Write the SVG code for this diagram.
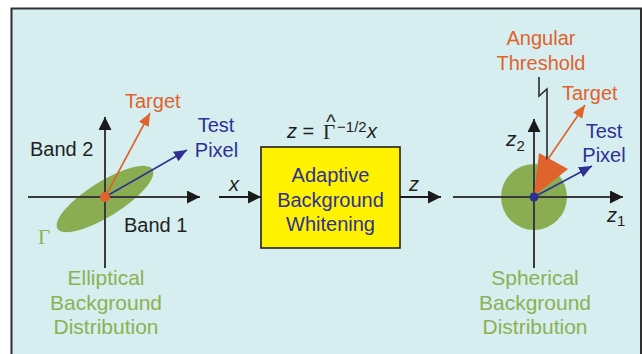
<svg xmlns="http://www.w3.org/2000/svg" width="642" height="354" viewBox="0 0 642 354">
  <defs>
    <marker id="ahBlack" markerUnits="userSpaceOnUse" markerWidth="14" markerHeight="14" refX="13" refY="6.5" orient="auto">
      <path d="M0,0 L13,6.5 L0,13 z" fill="#1a1a1a"/>
    </marker>
    <marker id="ahOrange" markerUnits="userSpaceOnUse" markerWidth="14" markerHeight="12" refX="13" refY="5.5" orient="auto">
      <path d="M0,0 L13,5.5 L0,11 z" fill="#e0622c"/>
    </marker>
    <marker id="ahBlue" markerUnits="userSpaceOnUse" markerWidth="14" markerHeight="12" refX="13" refY="5.5" orient="auto">
      <path d="M0,0 L13,5.5 L0,11 z" fill="#2e3192"/>
    </marker>
    <style>
      text { font-family: "Liberation Sans", Arial, sans-serif; font-size: 20px; }
      .mid { text-anchor: middle; }
      .dark { fill: #231f20; }
      .orange { fill: #e0622c; }
      .blue { fill: #2e3192; }
      .green { fill: #8cb152; font-size: 21px; }
      .ital { font-style: italic; }
      .serif { font-family: "Liberation Serif", "Times New Roman", serif; }
      .axis { stroke: #3a3a3a; stroke-width: 2; fill: none; }
      .vecO { stroke: #e0622c; stroke-width: 1.6; fill: none; }
      .vecB { stroke: #2e3192; stroke-width: 1.6; fill: none; }
      .flow { stroke: #1a1a1a; stroke-width: 2; fill: none; }
    </style>
  </defs>

  <!-- panel -->
  <rect x="0" y="0" width="642" height="354" fill="#ffffff"/>
  <rect x="11.5" y="8.5" width="629.5" height="400" fill="#d6eef0" stroke="#2f2f2f" stroke-width="2"/>

  <!-- left: elliptical distribution in band space -->
  <g id="elliptical">
    <ellipse cx="105" cy="199" rx="56" ry="17.5" transform="rotate(-32 105 199)" fill="#8aad52"/>
    <line class="axis" x1="28" y1="197" x2="200" y2="197" marker-end="url(#ahBlack)"/>
    <line class="axis" x1="105" y1="268" x2="105" y2="117" marker-end="url(#ahBlack)"/>
    <line class="vecO" x1="105" y1="197" x2="150" y2="113" marker-end="url(#ahOrange)"/>
    <line class="vecB" x1="105" y1="197" x2="187" y2="150" marker-end="url(#ahBlue)"/>
    <circle cx="105" cy="197" r="5" fill="#e0622c"/>
    <text class="dark" x="30" y="156">Band 2</text>
    <text class="dark" x="124" y="232">Band 1</text>
    <text class="orange" x="125" y="108">Target</text>
    <text class="blue mid" x="216" y="132">Test</text>
    <text class="blue mid" x="216.5" y="157">Pixel</text>
    <text class="green serif" x="38" y="244">Γ</text>
    <text class="green mid" x="106" y="285">Elliptical</text>
    <text class="green mid" x="106" y="310">Background</text>
    <text class="green mid" x="106" y="334">Distribution</text>
  </g>

  <!-- middle: whitening block -->
  <g id="whitening">
    <rect x="261" y="147" width="139" height="101" fill="#fff200" stroke="#231f20" stroke-width="1.6"/>
    <text class="blue mid" x="330.5" y="182">Adaptive</text>
    <text class="blue mid" x="330.5" y="207">Background</text>
    <text class="blue mid" x="330.5" y="231">Whitening</text>
  </g>

  <!-- whitening transform: z = Γ-hat^(-1/2) x -->
  <g id="equation">
    <text class="dark" x="287" y="138"><tspan class="ital">z</tspan> =</text>
    <text class="dark" x="323" y="139"><tspan class="serif" style="font-size:21px">Γ</tspan><tspan dx="-9" dy="-10">^</tspan><tspan dx="1.5" dy="3" style="font-size:15px">−1/2</tspan></text>
    <text class="dark ital" x="367" y="138">x</text>
  </g>

  <g id="connectors">
    <line class="flow" x1="219" y1="197" x2="261" y2="197" marker-end="url(#ahBlack)"/>
    <line class="flow" x1="400" y1="197" x2="441" y2="197" marker-end="url(#ahBlack)"/>
    <text class="dark ital" x="229" y="191">x</text>
    <text class="dark ital" x="409" y="191">z</text>
  </g>

  <!-- right: spherical distribution in whitened space -->
  <g id="spherical">
    <circle cx="534" cy="197" r="33" fill="#8aad52"/>
    <line class="axis" x1="453" y1="197" x2="623" y2="197" marker-end="url(#ahBlack)"/>
    <line class="axis" x1="534" y1="268" x2="534" y2="119" marker-end="url(#ahBlack)"/>
    <polygon points="534,196 539,153 568,169" fill="#e0622c"/>
    <polyline points="539,77 539,96 547,89 547,160" fill="none" stroke="#2a2a2a" stroke-width="1.6"/>
    <line class="vecO" x1="546" y1="162" x2="585" y2="105" marker-end="url(#ahOrange)"/>
    <line class="vecB" x1="534" y1="197" x2="592" y2="166" marker-end="url(#ahBlue)"/>
    <circle cx="534" cy="197" r="4.5" fill="#2e3192"/>
    <text class="orange mid" x="541" y="45">Angular</text>
    <text class="orange mid" x="541" y="70">Threshold</text>
    <text class="orange" x="562" y="100">Target</text>
    <text class="blue mid" x="604" y="138">Test</text>
    <text class="blue mid" x="604" y="162">Pixel</text>
    <text class="dark" x="506" y="146"><tspan class="ital" style="font-size:21px">z</tspan><tspan dy="5" style="font-size:15px">2</tspan></text>
    <text class="dark" x="607" y="222"><tspan class="ital">z</tspan><tspan dy="4" style="font-size:15px">1</tspan></text>
    <text class="green mid" x="535" y="285">Spherical</text>
    <text class="green mid" x="535" y="310">Background</text>
    <text class="green mid" x="535" y="334">Distribution</text>
  </g>
</svg>
